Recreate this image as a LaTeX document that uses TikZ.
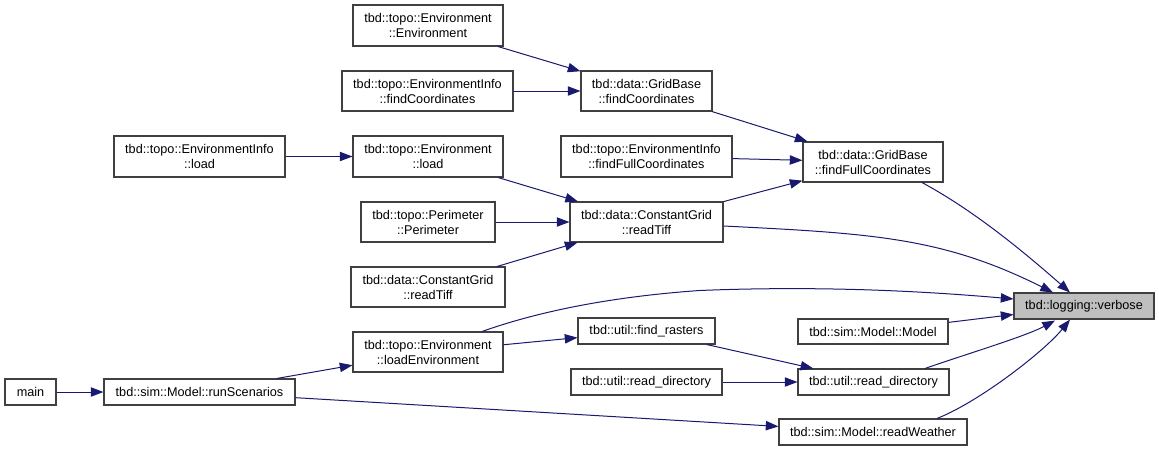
\documentclass[tikz,border=0pt]{standalone}
\usepackage{fontspec}
\setmainfont{Liberation Sans}
\usetikzlibrary{arrows.meta,calc}
\definecolor{edgec}{HTML}{191970}
\definecolor{nodeb}{HTML}{404040}
\definecolor{hl}{HTML}{BFBFBF}
\begin{document}
\begin{tikzpicture}[x=0.75pt,y=-0.75pt,
  box/.style={draw=nodeb, line width=0.8pt, fill=white, inner sep=0pt, align=center,
    font=\fontsize{9.5pt}{11.25pt}\selectfont},
  wh/.style 2 args={minimum width={0.75pt*#1}, minimum height={0.75pt*#2}},
  edge/.style={draw=edgec, line width=0.75pt, -{Triangle[length=9.5pt,width=7pt]}}]
\useasboundingbox (0,0) rectangle (1159,451);

% nodes
\node[box, wh={51}{26}]  (main)    at (30.5,392)  {main};
\node[box, wh={191}{26}] (runSc)   at (199.5,392) {tbd::sim::Model::runScenarios};
\node[box, wh={171}{41}] (EIload)  at (199.5,156.5) {tbd::topo::EnvironmentInfo\\::load};
\node[box, wh={150}{41}] (EnvEnv)  at (428,25.5)  {tbd::topo::Environment\\::Environment};
\node[box, wh={171}{40}] (EIfindC) at (427.5,91)  {tbd::topo::EnvironmentInfo\\::findCoordinates};
\node[box, wh={131}{40}] (GBfindC) at (646.5,91)  {tbd::data::GridBase\\::findCoordinates};
\node[box, wh={150}{41}] (Envload) at (428,156.5) {tbd::topo::Environment\\::load};
\node[box, wh={171}{41}] (EIfull)  at (646.5,156.5) {tbd::topo::EnvironmentInfo\\::findFullCoordinates};
\node[box, wh={134}{40}] (Perim)   at (428,222)   {tbd::topo::Perimeter\\::Perimeter};
\node[box, wh={153}{40}] (CGread)  at (646.5,222) {tbd::data::ConstantGrid\\::readTiff};
\node[box, wh={154}{40}] (CGreadL) at (428,287)   {tbd::data::ConstantGrid\\::readTiff};
\node[box, wh={150}{40}] (loadEnv) at (428,352)   {tbd::topo::Environment\\::loadEnvironment};
\node[box, wh={137}{26}] (findR)   at (646.5,331) {tbd::util::find\_rasters};
\node[box, wh={151}{26}] (rdL)     at (646.5,382) {tbd::util::read\_directory};
\node[box, wh={140}{40}] (GBfull)  at (873,162)   {tbd::data::GridBase\\::findFullCoordinates};
\node[box, wh={140}{26}, fill=hl] (verbose) at (1084,306) {tbd::logging::verbose};
\node[box, wh={150}{25}] (Model)   at (873,331.5) {tbd::sim::Model::Model};
\node[box, wh={151}{26}] (rdR)     at (873.5,382) {tbd::util::read\_directory};
\node[box, wh={188}{26}] (readW)   at (873,432)   {tbd::sim::Model::readWeather};

% straight edges
\draw[edge] (main) -- (runSc);
\draw[edge] (runSc) -- (loadEnv);
\draw[edge] (runSc) -- (readW);
\draw[edge] (EIload) -- (Envload);
\draw[edge] (Envload) -- (CGread);
\draw[edge] (Perim) -- (CGread);
\draw[edge] (CGreadL) -- (CGread);
\draw[edge] (EnvEnv) -- (GBfindC);
\draw[edge] (EIfindC) -- (GBfindC);
\draw[edge] (GBfindC) -- (GBfull);
\draw[edge] (EIfull) -- (GBfull);
\draw[edge] (CGread) -- (GBfull);
\draw[edge] (loadEnv) -- (findR);
\draw[edge] (findR) -- (rdR);
\draw[edge] (rdL) -- (rdR);
\draw[edge] (Model) -- (verbose);

% curved edges
\draw[edge] ($(GBfull.south)+(49,0)$) .. controls ($(GBfull.south)+(99,27)$) and ($(verbose.north)+(-64,-44)$) .. ($(verbose.north)+(-14,0)$);
\draw[edge] ($(CGread.east)+(0,4)$) .. controls ($(CGread.east)+(150,11.5)$) and ($(verbose.north)+(-141,-55)$) .. ($(verbose.north)+(-31,0)$);
\draw[edge] ($(loadEnv.north)+(54,0)$) .. controls ($(loadEnv.north)+(102,-17)$) and ($(loadEnv.north)+(172,-34)$) .. ($(loadEnv.north)+(272,-41)$)
   .. controls ($(loadEnv.north)+(372,-45)$) and ($(verbose.west)+(-114,-17)$) .. ($(verbose.west)+(0,-7)$);
\draw[edge] ($(rdR.north)+(51.5,0)$) .. controls ($(rdR.north)+(91.5,-14)$) and ($(verbose.south)+(-59,17)$) .. ($(verbose.south)+(-29,1)$);
\draw[edge] ($(readW.north)+(64,0)$) .. controls ($(readW.north)+(107,-17)$) and ($(verbose.south)+(-39,31)$) .. ($(verbose.south)+(-14,0)$);
\end{tikzpicture}
\end{document}
